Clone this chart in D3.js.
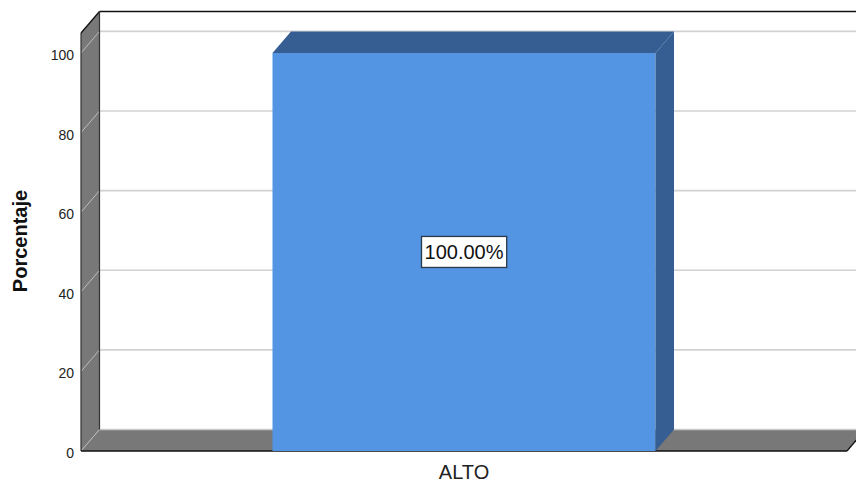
<!DOCTYPE html>
<html><head><meta charset="utf-8">
<script src="https://cdn.jsdelivr.net/npm/d3@7"></script>
<style>body{margin:0;background:#fff}svg{display:block}</style>
</head><body>
<script>
const categories = ["ALTO"];
const values = [100];
const valueLabels = ["100.00%"];
const yTicks = [0, 20, 40, 60, 80, 100];
const yTitle = "Porcentaje";

const W = 856, H = 485;
const DX = 18.5, DY = -21.5;
const svg = d3.select("body").append("svg").attr("width", W).attr("height", H);

const x = d3.scaleBand().domain(categories).range([81, 847]).paddingInner(0.5).paddingOuter(0.25);
const y = d3.scaleLinear().domain([0, 105]).range([451, 33]);

const x0 = 81, x1 = 847, yb = y(0), yt = y(105);
const gray = "#787878";

// back plane
svg.append("rect").attr("x", x0 + DX).attr("y", yt + DY).attr("width", x1 - x0).attr("height", yb - yt).attr("fill", "#fff");

// back gridlines
svg.append("g").selectAll("line").data(yTicks.filter(d => d > 0)).join("line")
  .attr("x1", x0 + DX).attr("x2", x1 + DX)
  .attr("y1", d => y(d) + DY).attr("y2", d => y(d) + DY)
  .attr("stroke", "#d2d2d2").attr("stroke-width", 1.6);

// left wall
svg.append("path").attr("d", `M${x0},${yt}L${x0 + DX},${yt + DY}L${x0 + DX},${yb + DY}L${x0},${yb}Z`)
  .attr("fill", gray);
// floor
svg.append("path").attr("d", `M${x0},${yb}L${x0 + DX},${yb + DY}L${x1 + DX},${yb + DY}L${x1},${yb}Z`)
  .attr("fill", gray);
// floor top highlight
svg.append("line").attr("x1", x0 + DX).attr("x2", x1 + DX).attr("y1", yb + DY).attr("y2", yb + DY)
  .attr("stroke", "#c8c8c8").attr("stroke-width", 1.5);

// wall gridline diagonals
svg.append("g").selectAll("line").data(yTicks).join("line")
  .attr("x1", x0).attr("x2", x0 + DX)
  .attr("y1", d => y(d)).attr("y2", d => y(d) + DY)
  .attr("stroke", "#bdbdbd").attr("stroke-width", 1);

// frame edges
const edge = (a, b, c, d, col = "#111", w = 1.3) => svg.append("line").attr("x1", a).attr("y1", b).attr("x2", c).attr("y2", d).attr("stroke", col).attr("stroke-width", w);
edge(x0 + DX, yt + DY, W + 5, yt + DY);
edge(x0, yt, x0 + DX, yt + DY);
edge(x0 + DX, yt + DY, x0 + DX, yb + DY, "#333", 1.2);
edge(x0, yt, x0, yb, "#333", 1.2);
edge(x0, yb, x1, yb);
edge(x1, yb, x1 + DX, yb + DY);

// bars
const bars = svg.append("g").selectAll("g").data(categories).join("g");
bars.append("rect").attr("x", d => x(d)).attr("y", (d, i) => y(values[i]))
  .attr("width", x.bandwidth()).attr("height", (d, i) => yb - y(values[i]))
  .attr("fill", "#5394e3");
bars.append("path").attr("d", (d, i) => {
  const l = x(d), r = l + x.bandwidth(), t = y(values[i]);
  return `M${l},${t}L${r},${t}L${r + DX},${t + DY}L${l + DX},${t + DY}Z`;
}).attr("fill", "#365e92");
bars.append("path").attr("d", (d, i) => {
  const r = x(d) + x.bandwidth(), t = y(values[i]);
  return `M${r},${t}L${r + DX},${t + DY}L${r + DX},${yb + DY}L${r},${yb}Z`;
}).attr("fill", "#365e92");

// value labels
bars.each(function (d, i) {
  const g = d3.select(this);
  const cx = x(d) + x.bandwidth() / 2, cy = y(values[i] / 2);
  const t = g.append("text").attr("x", cx).attr("y", cy).attr("text-anchor", "middle")
    .attr("dominant-baseline", "central").attr("font-family", "Liberation Sans, Arial, sans-serif")
    .attr("font-size", 20).attr("fill", "#111").text(valueLabels[i]);
  const bb = t.node().getBBox();
  g.insert("rect", "text").attr("x", bb.x - 3).attr("y", cy - 15.5).attr("width", bb.width + 6).attr("height", 31)
    .attr("fill", "#fff").attr("stroke", "#2a3a4a").attr("stroke-width", 1.3);
});

// y tick labels
svg.append("g").selectAll("text").data(yTicks).join("text")
  .attr("x", 74).attr("y", d => y(d) + 2).attr("text-anchor", "end").attr("dominant-baseline", "central")
  .attr("font-family", "Liberation Sans, Arial, sans-serif").attr("font-size", 14).attr("fill", "#222")
  .text(d => d);

// x labels
svg.append("g").selectAll("text").data(categories).join("text")
  .attr("x", d => x(d) + x.bandwidth() / 2).attr("y", 472).attr("text-anchor", "middle")
  .attr("dominant-baseline", "central").attr("font-family", "Liberation Sans, Arial, sans-serif")
  .attr("font-size", 20).attr("fill", "#222").text(d => d);

// y title
svg.append("text").attr("transform", "translate(20,241) rotate(-90)").attr("text-anchor", "middle")
  .attr("dominant-baseline", "central").attr("font-family", "Liberation Sans, Arial, sans-serif")
  .attr("font-weight", "bold").attr("font-size", 20).attr("fill", "#111").text(yTitle);
</script>
</body></html>
